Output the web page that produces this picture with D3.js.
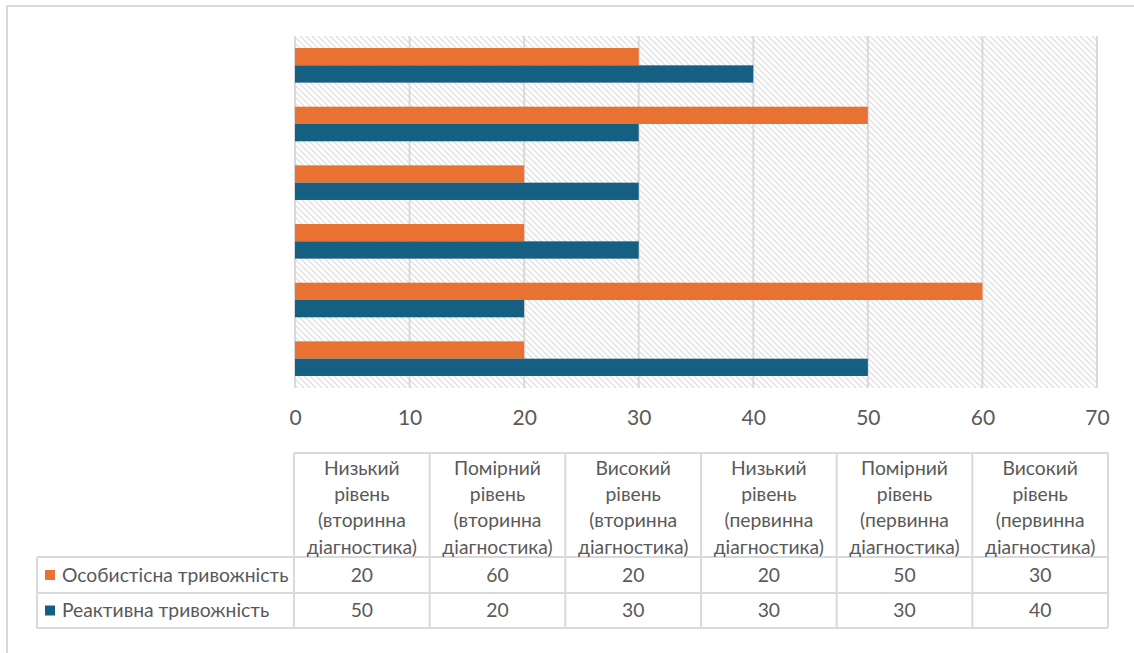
<!DOCTYPE html>
<html>
<head>
<meta charset="utf-8">
<script src="https://cdn.jsdelivr.net/npm/d3@7"></script>
<style>
  html, body { margin: 0; padding: 0; background: #fff; }
  svg { display: block; font-family: Lato, "Open Sans", sans-serif; }
</style>
</head>
<body>
<svg id="chart" width="1134" height="653"></svg>
<script>
// Categories in data order (the first one is drawn at the bottom of the bar chart)
const categories = [
  "Низький рівень (вторинна діагностика)",
  "Помірний рівень (вторинна діагностика)",
  "Високий рівень (вторинна діагностика)",
  "Низький рівень (первинна діагностика)",
  "Помірний рівень (первинна діагностика)",
  "Високий рівень (первинна діагностика)"
];
const seriesNames = ["Особистісна тривожність", "Реактивна тривожність"];
const personalAnxiety = [20, 60, 20, 20, 50, 30];
const reactiveAnxiety = [50, 20, 30, 30, 30, 40];
const xTicks = [0, 10, 20, 30, 40, 50, 60, 70];
const seriesColors = ["#E97132", "#156082"];

const seriesValues = [personalAnxiety, reactiveAnxiety];
const svg = d3.select("#chart");
const gridColor = "#d9d9d9";
const textColor = "#595959";
const tableFont = "19.3px";

// Outer chart frame
svg.append("rect")
  .attr("x", 7).attr("y", 6).attr("width", 1140).attr("height", 700)
  .attr("fill", "none").attr("stroke", "#d9d9d9").attr("stroke-width", 2);

// Plot area
const plot = { left: 295, right: 1097, top: 36, bottom: 388 };

const x = d3.scaleLinear().domain([0, 70]).range([plot.left, plot.right]);
const y = d3.scaleBand()
  .domain(categories.slice().reverse())
  .range([plot.top, plot.bottom])
  .paddingInner(0.41)
  .paddingOuter(0.205);
const ySub = d3.scaleBand().domain(seriesNames).range([0, y.bandwidth()]);

// Diagonal hatch fill for the plot background
const defs = svg.append("defs");
const pat = defs.append("pattern")
  .attr("id", "hatch")
  .attr("patternUnits", "userSpaceOnUse")
  .attr("width", 6).attr("height", 6);
pat.append("rect").attr("width", 6).attr("height", 6).attr("fill", "#fff");
pat.append("path")
  .attr("d", "M0,0 L6,6 M-3,3 L3,9 M3,-3 L9,3")
  .attr("stroke", "#e2e2e2").attr("stroke-width", 1.5);

svg.append("rect")
  .attr("x", plot.left).attr("y", plot.top)
  .attr("width", plot.right - plot.left).attr("height", plot.bottom - plot.top)
  .attr("fill", "url(#hatch)");

// Vertical gridlines
svg.append("g").selectAll("line").data(xTicks).join("line")
  .attr("x1", d => x(d)).attr("x2", d => x(d))
  .attr("y1", plot.top).attr("y2", plot.bottom)
  .attr("stroke", gridColor).attr("stroke-width", 2);

// Bars
const groups = svg.append("g").selectAll("g").data(categories).join("g")
  .attr("transform", c => `translate(0,${y(c)})`);
groups.selectAll("rect")
  .data((c, i) => seriesNames.map((s, k) => ({ s, k, v: seriesValues[k][i] })))
  .join("rect")
  .attr("x", x(0))
  .attr("y", d => ySub(d.s))
  .attr("width", d => x(d.v) - x(0))
  .attr("height", ySub.bandwidth())
  .attr("fill", d => seriesColors[d.k]);

// Value axis labels
const xAxis = svg.append("g")
  .attr("transform", `translate(0,${plot.bottom})`)
  .call(d3.axisBottom(x).tickValues(xTicks).tickSize(0).tickPadding(22));
xAxis.select(".domain").remove();
xAxis.selectAll("text")
  .attr("fill", textColor)
  .style("font-family", "Lato, sans-serif")
  .style("font-size", "21px");

// Data table under the chart
const table = { left: 294, right: 1108, legendLeft: 37, headTop: 453, headBottom: 557, row1: 593, row2: 628 };
const col = d3.scaleBand().domain(categories).range([table.left, table.right]);
const rowTops = [table.headBottom, table.row1];
const rowBottoms = [table.row1, table.row2];
const tg = svg.append("g");
const border = { stroke: "#dadada", width: 2 };

function hline(x1, x2, yy) {
  tg.append("line").attr("x1", x1).attr("x2", x2).attr("y1", yy).attr("y2", yy)
    .attr("stroke", border.stroke).attr("stroke-width", border.width);
}
function vline(xx, y1, y2) {
  tg.append("line").attr("x1", xx).attr("x2", xx).attr("y1", y1).attr("y2", y2)
    .attr("stroke", border.stroke).attr("stroke-width", border.width);
}
hline(table.left, table.right, table.headTop);
hline(table.legendLeft, table.right, table.headBottom);
hline(table.legendLeft, table.right, table.row1);
hline(table.legendLeft, table.right, table.row2);
vline(table.legendLeft, table.headBottom, table.row2);
categories.forEach(c => vline(col(c), table.headTop, table.row2));
vline(table.right, table.headTop, table.row2);

// Header cells: each word on its own line
categories.forEach(c => {
  const words = c.split(" ");
  const t = tg.append("text")
    .attr("text-anchor", "middle")
    .attr("fill", textColor)
    .style("font-size", tableFont);
  words.forEach((w, i) => {
    t.append("tspan")
      .attr("x", col(c) + col.bandwidth() / 2)
      .attr("y", 468 + i * 26.3)
      .attr("dy", "0.35em")
      .text(w);
  });
});

// Value rows with legend keys
seriesNames.forEach((s, k) => {
  const cy = (rowTops[k] + rowBottoms[k]) / 2;
  tg.append("rect")
    .attr("x", 45).attr("y", cy - 5).attr("width", 10).attr("height", 10)
    .attr("fill", seriesColors[k]);
  tg.append("text")
    .attr("x", 62).attr("y", cy).attr("dy", "0.35em")
    .attr("fill", textColor)
    .style("font-size", tableFont)
    .text(s);
  categories.forEach((c, i) => {
    tg.append("text")
      .attr("x", col(c) + col.bandwidth() / 2)
      .attr("y", cy).attr("dy", "0.35em")
      .attr("text-anchor", "middle")
      .attr("fill", textColor)
      .style("font-size", tableFont)
      .text(seriesValues[k][i]);
  });
});
</script>
</body>
</html>
